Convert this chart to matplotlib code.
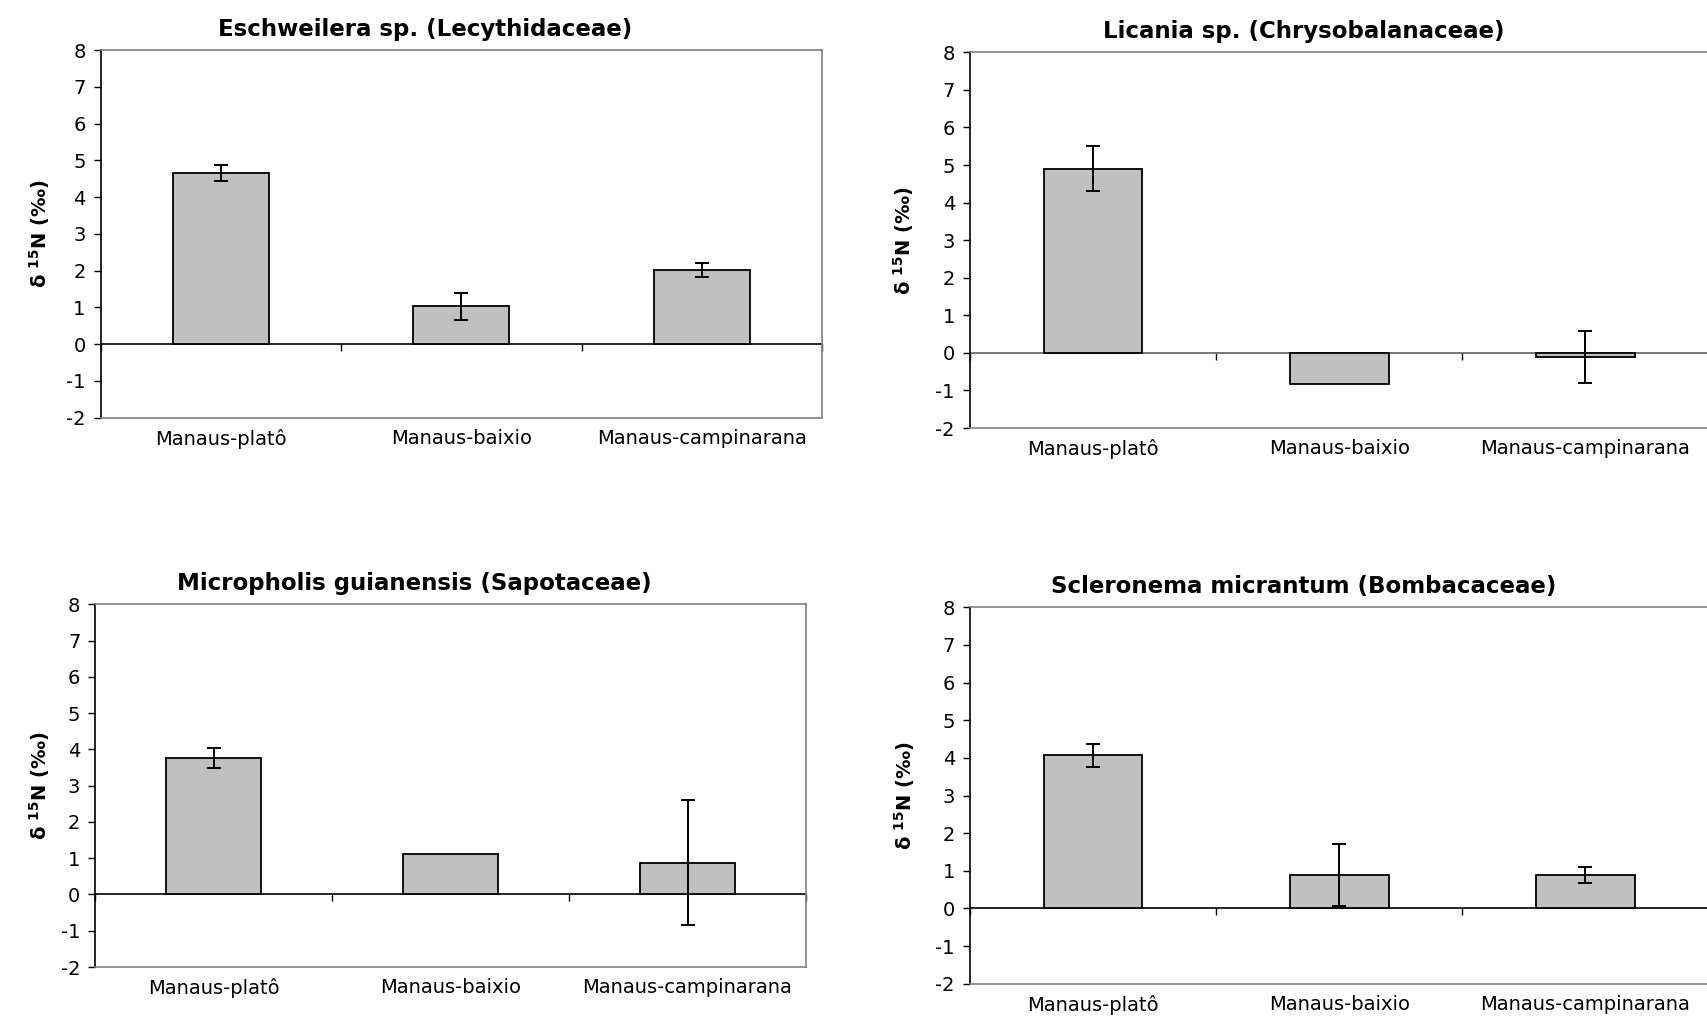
import numpy as np
import matplotlib
matplotlib.use("Agg")
import matplotlib.pyplot as plt

# ---------------- data ----------------
categories = ["Manaus-platô", "Manaus-baixio", "Manaus-campinarana"]

titles = [
    "Eschweilera sp. (Lecythidaceae)",
    "Licania sp. (Chrysobalanaceae)",
    "Micropholis guianensis (Sapotaceae)",
    "Scleronema micrantum (Bombacaceae)",
]

eschweilera_mean = [4.65, 1.03, 2.01]
eschweilera_err = [0.22, 0.36, 0.19]

licania_mean = [4.90, -0.82, -0.11]
licania_err = [0.60, np.nan, 0.70]

micropholis_mean = [3.76, 1.12, 0.88]
micropholis_err = [0.27, np.nan, 1.73]

scleronema_mean = [4.07, 0.88, 0.88]
scleronema_err = [0.31, 0.82, 0.21]

yticks = [-2, -1, 0, 1, 2, 3, 4, 5, 6, 7, 8]
ylabel = r"$\mathbf{\delta\ ^{15}N}$ (‰)"

means = [eschweilera_mean, licania_mean, micropholis_mean, scleronema_mean]
errs = [eschweilera_err, licania_err, micropholis_err, scleronema_err]

# ---------------- layout (pixels) ----------------
W, H = 1708, 1021
# left, right, top, bottom of each plot area
rects_px = [
    (100.7, 822.0, 50.0, 417.7),
    (970.0, 1708.6, 52.3, 428.0),
    (95.3, 806.0, 604.3, 967.0),
    (970.0, 1708.6, 607.3, 983.7),
]
ylabel_right_px = [52, 916, 52, 917]
title_shift_px = -36
zero_colors = ["black", "#606060", "black", "black"]

plt.rcParams["font.family"] = ["DejaVu Sans"]
plt.rcParams["axes.unicode_minus"] = False
plt.rcParams["mathtext.fontset"] = "dejavusans"

fig = plt.figure(figsize=(W / 100, H / 100), dpi=100)
fig.patch.set_facecolor("white")

grey = "#808080"
x = np.arange(len(categories))

for i in range(4):
    l, r, t, b = rects_px[i]
    ax = fig.add_axes([l / W, 1 - b / H, (r - l) / W, (b - t) / H])
    m = np.array(means[i], dtype=float)
    e = np.array(errs[i], dtype=float)

    ax.bar(x, m, width=0.4, color="#C0C0C0", edgecolor="black",
           linewidth=1.3, zorder=2)
    ok = np.isfinite(e)
    ax.errorbar(x[ok], m[ok], yerr=e[ok], fmt="none", ecolor="black",
                elinewidth=1.4, capsize=4.8, capthick=1.4, zorder=3)

    ymin, ymax = yticks[0], yticks[-1]
    ax.set_ylim(ymin, ymax)
    ax.set_xlim(-0.5, len(categories) - 0.5)
    ax.set_yticks(yticks)
    ax.tick_params(axis="y", direction="out", length=4.8, width=1.0,
                   labelsize=14, pad=6, colors="black")

    ax.set_xticks(x)
    ax.set_xticklabels(categories)
    ax.tick_params(axis="x", length=0, labelsize=14, pad=8)

    for side in ["top", "right", "bottom"]:
        ax.spines[side].set_color(grey)
        ax.spines[side].set_linewidth(1.2)
    ax.spines["left"].set_color("black")
    ax.spines["left"].set_linewidth(1.2)

    # category axis crossing at zero with boundary ticks
    zero_frac = (0 - ymin) / (ymax - ymin)
    sec = ax.secondary_xaxis(zero_frac)
    sec.set_xticks(np.arange(len(categories) + 1) - 0.5)
    sec.set_xticklabels([])
    sec.tick_params(axis="x", direction="out", length=5, width=1.0,
                    colors="black")
    sec.spines["bottom"].set_color(zero_colors[i])
    sec.spines["bottom"].set_linewidth(1.2)

    ax.set_ylabel(ylabel, fontsize=14, fontweight="bold")
    ax.yaxis.set_label_coords((ylabel_right_px[i] - l) / (r - l), 0.5)

    ax.set_title(titles[i], fontsize=16.5, fontweight="bold", pad=10)
    ax.title.set_x(0.5 + title_shift_px / (r - l))

fig.savefig("out.png", dpi=100, facecolor="white")
